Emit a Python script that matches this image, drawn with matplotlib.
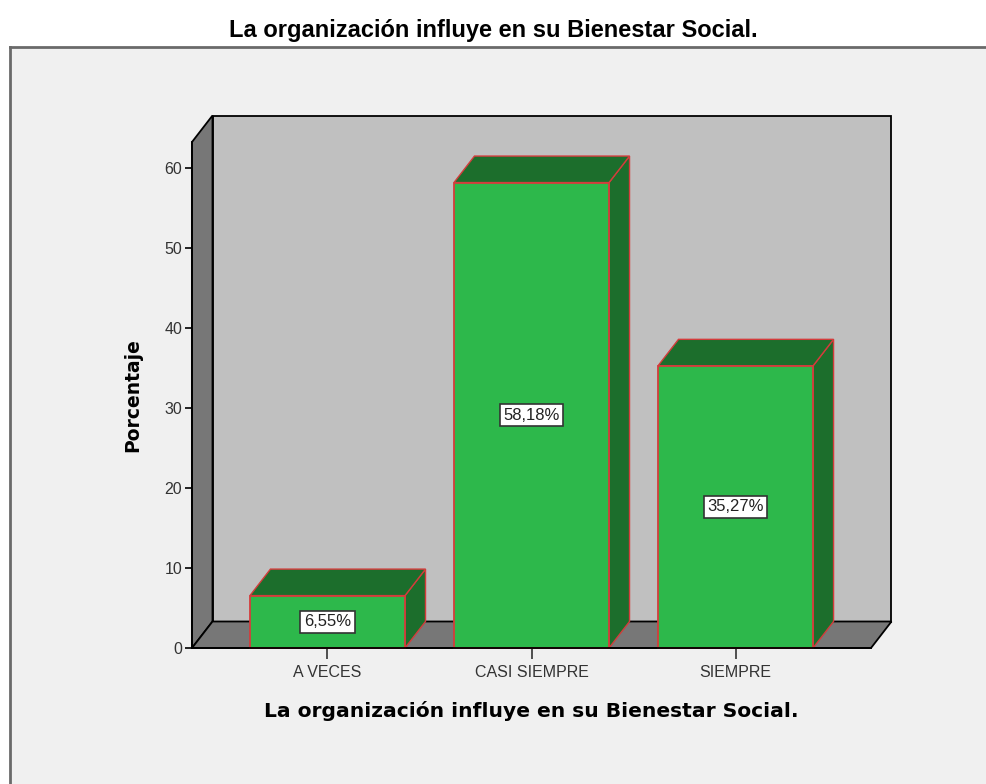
import matplotlib
matplotlib.use("Agg")
import matplotlib.pyplot as plt
from matplotlib.patches import Rectangle, Polygon

categories = ["A VECES", "CASI SIEMPRE", "SIEMPRE"]
values = [6.55, 58.18, 35.27]
value_labels = ["6,55%", "58,18%", "35,27%"]
yticks = [0, 10, 20, 30, 40, 50, 60]
title = "La organización influye en su Bienestar Social."
xlabel = "La organización influye en su Bienestar Social."
ylabel = "Porcentaje"

W, H = 986, 784
fig = plt.figure(figsize=(W / 100, H / 100), dpi=100)
fig.patch.set_facecolor("white")

# light gray panel with border
panel = fig.add_axes([10 / W, 0, 1 - 10 / W, (H - 47) / H])
panel.set_facecolor("#f0f0f0")
panel.set_xticks([]); panel.set_yticks([])
for s in ["right", "bottom"]:
    panel.spines[s].set_visible(False)
for s in ["left", "top"]:
    panel.spines[s].set_color("#6a6a6a")
    panel.spines[s].set_linewidth(2)

# front axis rectangle (pixels): x 192..871, y 142..648
L, R, T, B = 192, 871, 142, 648
ax = fig.add_axes([L / W, (H - B) / H, (R - L) / W, (B - T) / H])
ax.set_xlim(-0.664, 2.664)
ax.set_ylim(0, 63.25)
ax.patch.set_visible(False)

# depth offset (axes fraction)
DX = 20.5 / (R - L)
DY = 26.5 / (B - T)

lw = 1.3
# back wall
ax.add_patch(Rectangle((DX, DY), 1, 1, transform=ax.transAxes, facecolor="#c0c0c0",
                       edgecolor="black", lw=lw, clip_on=False, zorder=0))
# left side wall
ax.add_patch(Polygon([(0, 0), (DX, DY), (DX, 1 + DY), (0, 1)], closed=True,
                     transform=ax.transAxes, facecolor="#777777", edgecolor="black",
                     lw=lw, clip_on=False, zorder=0.5))
# floor
ax.add_patch(Polygon([(0, 0), (1, 0), (1 + DX, DY), (DX, DY)], closed=True,
                     transform=ax.transAxes, facecolor="#777777", edgecolor="black",
                     lw=lw, clip_on=False, zorder=0.5))

# bars
x0, x1 = ax.get_xlim()
y0, y1 = ax.get_ylim()
dxd = DX * (x1 - x0)
dyd = DY * (y1 - y0)
bw = 0.76
front = "#2db84b"
dark = "#1c6e2c"
edge = "#d43c3c"
for i, (v, lab) in enumerate(zip(values, value_labels)):
    xl, xr = i - bw / 2, i + bw / 2
    # side face
    ax.add_patch(Polygon([(xr, 0), (xr + dxd, dyd), (xr + dxd, v + dyd), (xr, v)],
                         closed=True, facecolor=dark, edgecolor=edge, lw=1.0,
                         clip_on=False, zorder=2))
    # top face
    ax.add_patch(Polygon([(xl, v), (xl + dxd, v + dyd), (xr + dxd, v + dyd), (xr, v)],
                         closed=True, facecolor=dark, edgecolor=edge, lw=1.0,
                         clip_on=False, zorder=2))
    # front face
    ax.add_patch(Rectangle((xl, 0), bw, v, facecolor=front, edgecolor=edge, lw=1.3,
                           clip_on=False, zorder=3))
    ax.text(i, v / 2, lab, ha="center", va="center", fontsize=12,
            family="Liberation Sans", color="#222222", zorder=5,
            bbox=dict(boxstyle="square,pad=0.22", facecolor="white",
                      edgecolor="#333333", lw=1.2))

for s in ["top", "right"]:
    ax.spines[s].set_visible(False)
for s in ["left", "bottom"]:
    ax.spines[s].set_color("black")
    ax.spines[s].set_linewidth(lw)
    ax.spines[s].set_zorder(4)

ax.set_yticks(yticks)
ax.set_yticklabels([str(t) for t in yticks], family="Liberation Sans", fontsize=11.5,
                   color="#333333")
ax.tick_params(axis="y", direction="out", length=5, width=1.2, pad=2, colors="black",
               labelcolor="#333333")
ax.set_xticks(range(len(categories)))
ax.set_xticklabels(categories, family="Liberation Sans", fontsize=11.5, color="#333333")
ax.tick_params(axis="x", direction="out", length=8, width=1.2, pad=4, colors="#333333")

ax.set_xlabel(xlabel, family="DejaVu Sans", fontweight="bold", fontsize=14.6)
ax.set_ylabel(ylabel, family="DejaVu Sans", fontweight="bold", fontsize=13.5)
ax.xaxis.set_label_coords(0.5, -0.105)
ax.yaxis.set_label_coords(-0.074, 0.5)

fig.text(0.5, 1 - 30 / H, title, ha="center", va="center", family="Liberation Sans",
         fontweight="bold", fontsize=17)

fig.savefig("out.png", dpi=100)
